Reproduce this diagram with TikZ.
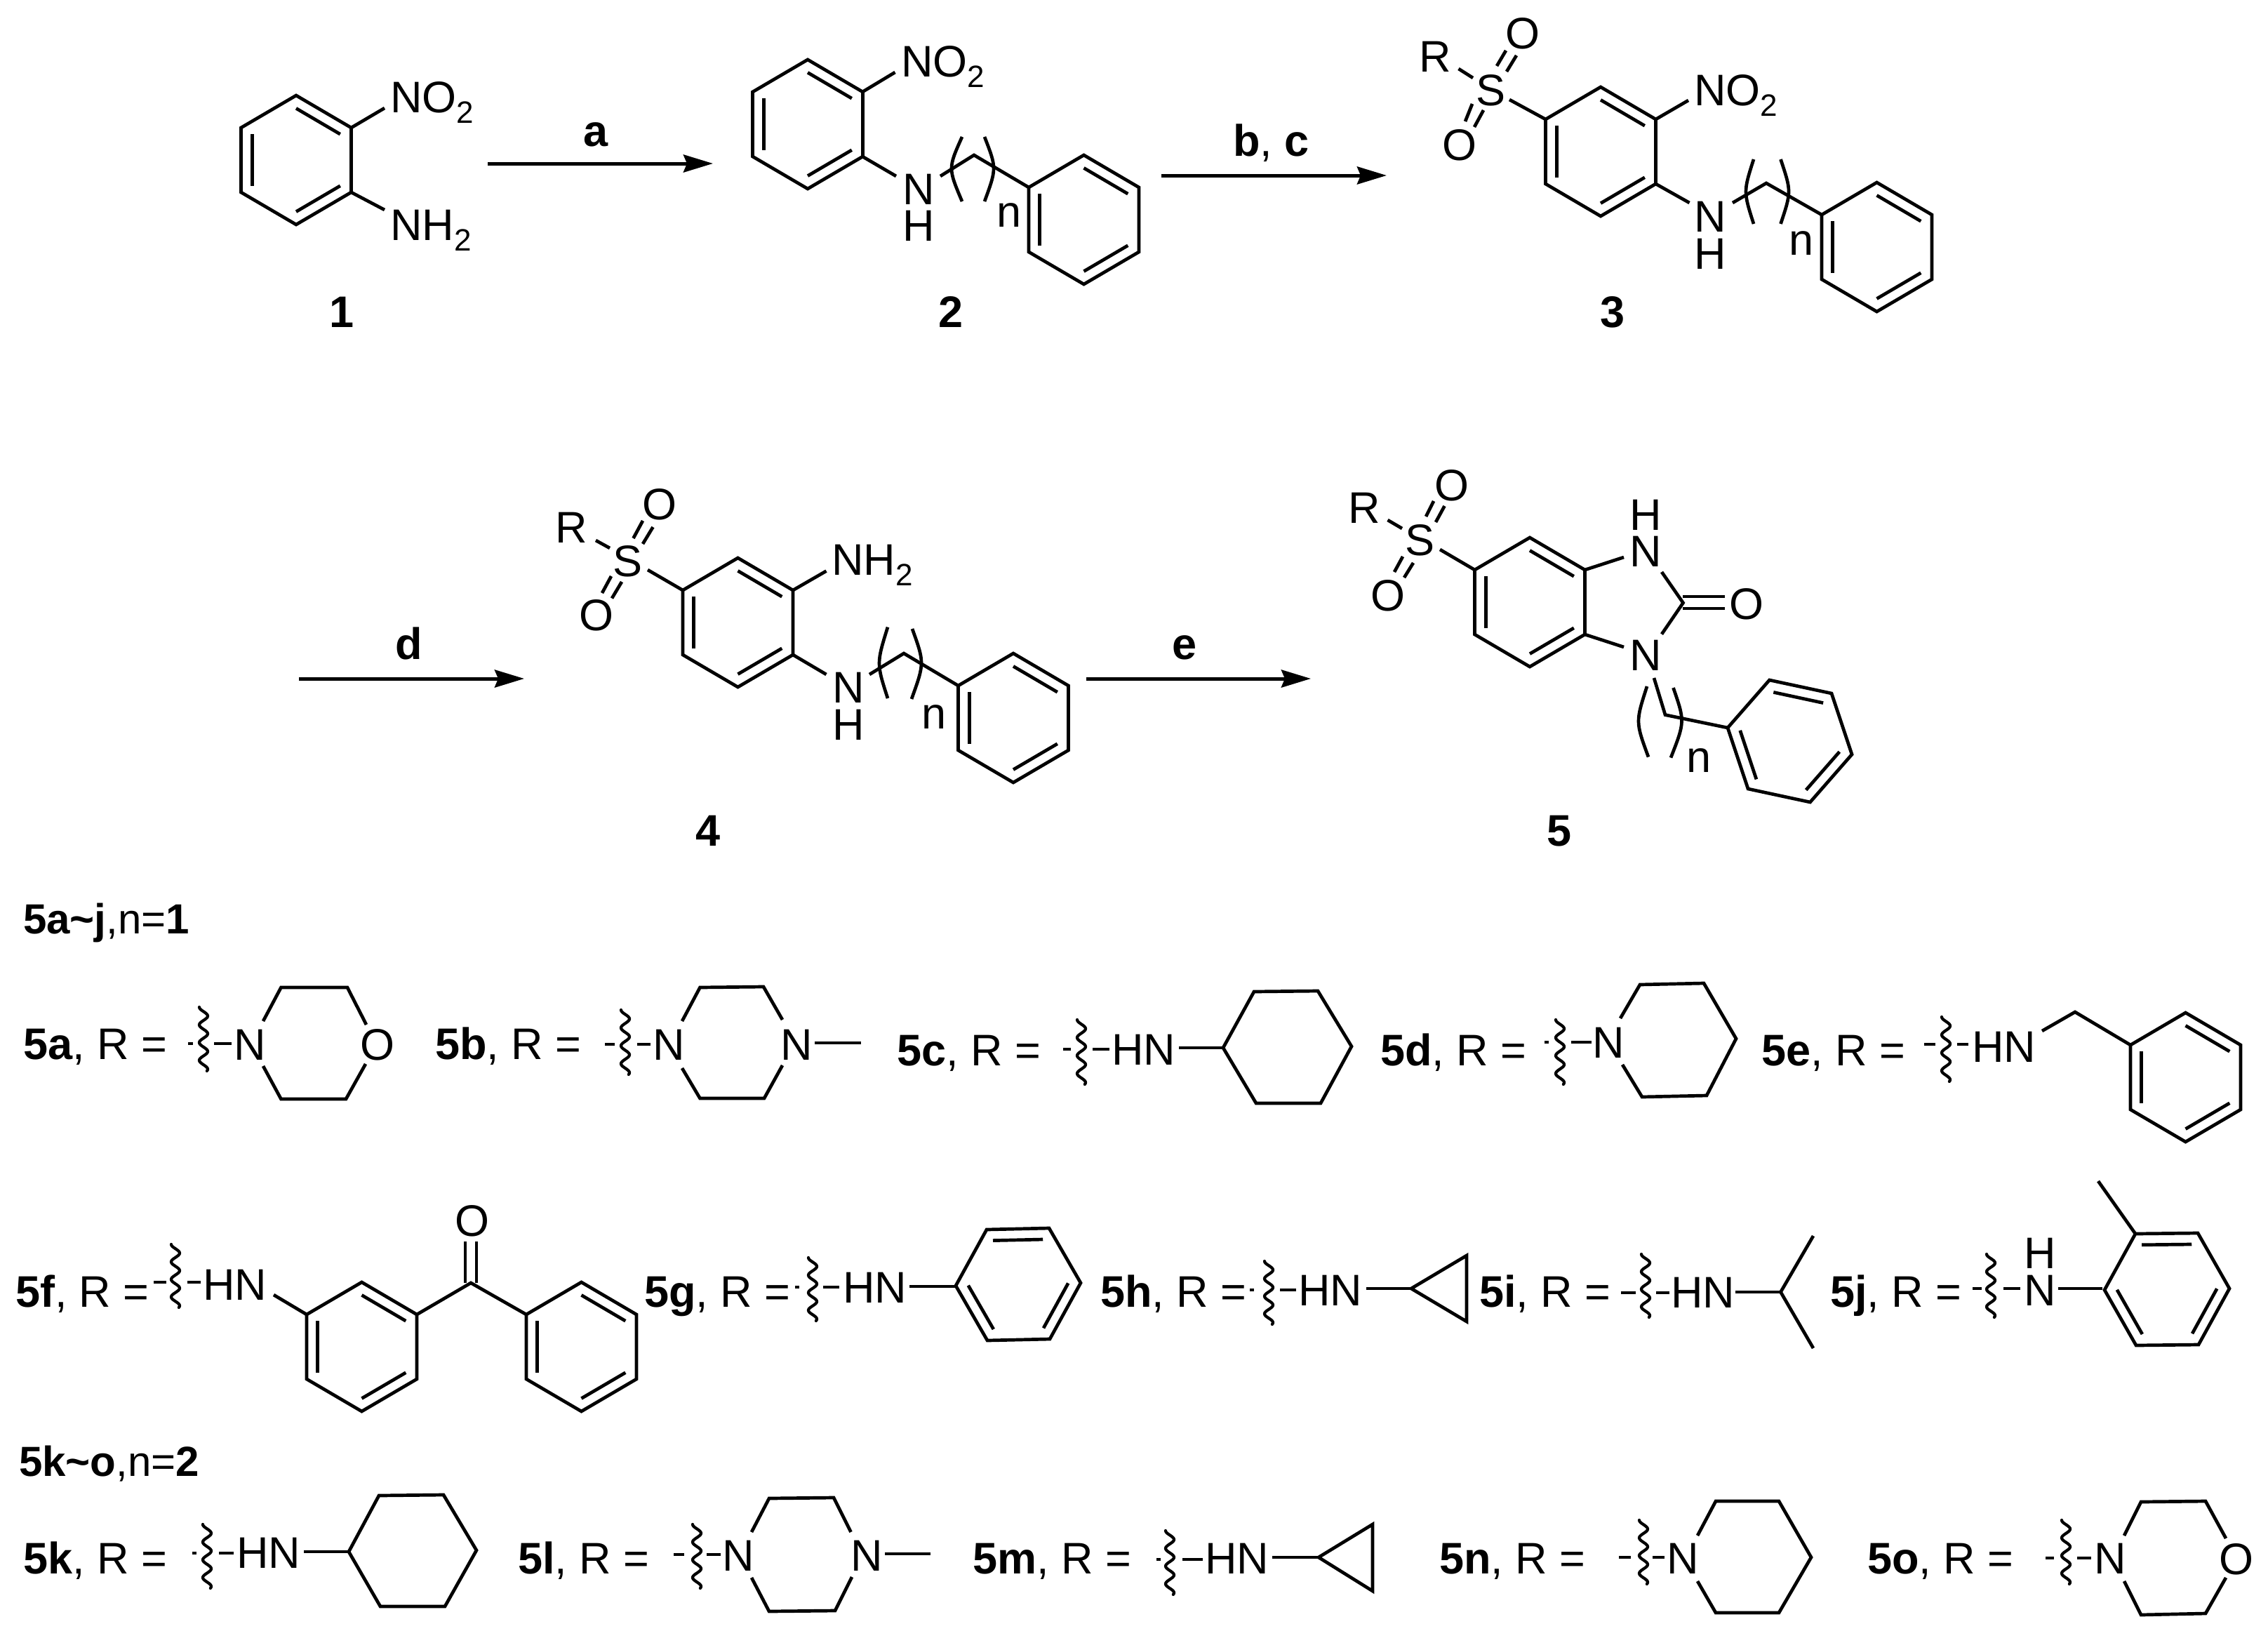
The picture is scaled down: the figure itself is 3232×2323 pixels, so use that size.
\documentclass[tikz,border=0pt]{standalone}
\usepackage{fontspec}
\setmainfont{Liberation Sans}
\usetikzlibrary{calc,arrows.meta}
\newcommand{\fs}{\fontsize{31.5}{36}\selectfont}
\newcommand{\subt}[1]{\raisebox{-7.5pt}{\fontsize{22}{24}\selectfont #1}}
\newcounter{lbl}
\newcommand{\lab}[3]{\stepcounter{lbl}\node[txt,anchor=base west] (t\arabic{lbl}) at (#1,#2) {#3};}
\newcommand{\atom}[3]{\stepcounter{lbl}\node[txt,anchor=base] (t\arabic{lbl}) at (#1,#2) {#3};}
% ring: centre, vertex-1 vector, vertex-2 vector, inner double bonds
\newcommand{\ring}[7]{%
  \coordinate (c) at (#1,#2);
  \coordinate (h1) at (#1+#3,#2+#4);
  \coordinate (h2) at (#1+#5,#2+#6);
  \coordinate (h3) at (#1+#5-#3,#2+#6-#4);
  \coordinate (h4) at (#1-#3,#2-#4);
  \coordinate (h5) at (#1-#5,#2-#6);
  \coordinate (h6) at (#1-#5+#3,#2-#6+#4);
  \draw[bond] (h1)--(h2)--(h3)--(h4)--(h5)--(h6)--cycle;
  \foreach \i/\j in {#7} \draw[bond] ($(c)!0.8!(h\i)$) -- ($(c)!0.8!(h\j)$);
}
\newcommand{\benz}[2]{\ring{#1}{#2}{0}{-92}{78.5}{-46}{1/2,3/4,5/6}}
\newcommand{\wide}[2]{\ring{#1}{#2}{-89}{1}{-45}{-79}{2/3,4/5,6/1}}
\newcommand{\paren}[6]{\draw[bond] (#1,#2) .. controls ({(4*#3-(#1+#5)/2)/3},{(4*#4-(#2+#6)/2)/3}) .. (#5,#6);}
% wavy attachment: x, top, bottom, left stub x1 x2, right stub x1 x2, stub y
\newcommand{\wavy}[8]{%
  \draw[wave] plot[domain=0:1,samples=73,smooth] ({#1+6*sin(360*3.6*\x-90)},{#2+(#3-#2)*\x});
  \draw[bond] (#4,#8) -- (#5,#8);
  \draw[bond] (#6,#8) -- (#7,#8);
}
\tikzset{
  bond/.style={line width=2.35pt,line join=miter,line cap=butt},
  wave/.style={line width=2.1pt,line cap=round},
  rarrow/.style={line width=2.5pt,-{Stealth[length=21pt,width=12.5pt,inset=2.5pt]}},
  txt/.style={inner sep=0pt,outer sep=0pt,font=\fs}
}
\begin{document}
\begin{tikzpicture}[x=0.5pt,y=-0.5pt]
\useasboundingbox (0,0) rectangle (3232,2323);
\fill[white] (0,0) rectangle (3232,2323);
% arrows
\coordinate (a1s) at (695,233); \coordinate (a1e) at (1016,233);
\coordinate (a2s) at (1655,250); \coordinate (a2e) at (1976,250);
\coordinate (a3s) at (426,967); \coordinate (a3e) at (747,967);
\coordinate (a4s) at (1548,967); \coordinate (a4e) at (1868,967);
\draw[rarrow] (a1s)--(a1e);
\draw[rarrow] (a2s)--(a2e);
\draw[rarrow] (a3s)--(a3e);
\draw[rarrow] (a4s)--(a4e);
\atom{849}{208}{\textbf{a}}
\lab{1757}{222}{\textbf{b}, \textbf{c}}
\atom{583}{939}{\textbf{d}}
\atom{1688}{939}{\textbf{e}}
% compound 1
\benz{422}{228}
\draw[bond] (500.5,182)--(548,154);
\draw[bond] (500.5,274)--(548,299);
\lab{556}{160}{NO\subt{2}}
\lab{556}{342}{NH\subt{2}}
\atom{487}{466}{\textbf{1}}
% compound 2
\benz{1151}{177}
\draw[bond] (1229,131)--(1275.5,103);
\draw[bond] (1229,223)--(1277,251);
\lab{1284}{110}{NO\subt{2}}
\atom{1309}{291}{N}\atom{1309}{343}{H}
\draw[bond] (1340,251)--(1388,221)--(1466,267);
\benz{1544.5}{313}
\paren{1371}{195}{1356}{240}{1371}{287}
\paren{1403}{195}{1416}{240}{1403}{287}
\atom{1438}{323}{n}
\atom{1355}{466}{\textbf{2}}
% compound 3
\benz{2281}{216}
\draw[bond] (2202.5,170)--(2151,142);
\draw[bond] (2078.5,98)--(2099,111);
\draw[bond] (2133,94)--(2146,72);
\draw[bond] (2147,102)--(2161,79);
\draw[bond] (2098,148)--(2088,173);
\draw[bond] (2114,157)--(2101,181);
\atom{2124.5}{150}{S}\atom{2045}{103}{R}
\atom{2170}{70}{O}\atom{2080}{228}{O}
\draw[bond] (2359.5,170)--(2406,143);
\draw[bond] (2359.5,262)--(2407.5,289);
\lab{2414}{150}{NO\subt{2}}
\atom{2437}{330}{N}\atom{2437}{383}{H}
\draw[bond] (2469,289)--(2517,261)--(2596,306);
\benz{2674.5}{352}
\paren{2499}{227}{2488}{273}{2499}{319}
\paren{2537.5}{227}{2549}{273}{2537.5}{319}
\atom{2567}{363}{n}
\atom{2298}{466}{\textbf{3}}
% compound 4
\benz{1051.5}{887}
\draw[bond] (973,841)--(923,812);
\draw[bond] (849,770)--(869,781);
\draw[bond] (902.5,767)--(916,742);
\draw[bond] (916,775)--(930.5,751);
\draw[bond] (871,821)--(858,845);
\draw[bond] (886,829)--(872,852.5);
\atom{894.5}{821}{S}\atom{814}{773}{R}
\atom{940}{740}{O}\atom{850}{898}{O}
\draw[bond] (1130,841)--(1177.5,813.6);
\draw[bond] (1130,933)--(1177.5,961);
\lab{1185}{819}{NH\subt{2}}
\atom{1209}{1001}{N}\atom{1209}{1054}{H}
\draw[bond] (1239,961)--(1288,931)--(1365.5,977);
\benz{1444}{1023}
\paren{1265}{893.6}{1253}{945}{1265}{995}
\paren{1300}{896}{1313}{945}{1299}{996}
\atom{1331}{1038.6}{n}
\atom{1009}{1205}{\textbf{4}}
% compound 5
\benz{2180}{858}
\draw[bond] (2101.5,812)--(2052,783);
\draw[bond] (1977.5,741)--(1998,753);
\draw[bond] (2032,736)--(2043,714);
\draw[bond] (2046,744)--(2058.5,721);
\draw[bond] (1987,815)--(1999,793);
\draw[bond] (2001,823)--(2014,802);
\atom{2023}{791}{S}\atom{1944}{745}{R}
\atom{2069}{713}{O}\atom{1978}{870}{O}
\atom{2345.5}{755}{H}\atom{2345.5}{807}{N}
\atom{2345.5}{955}{N}\atom{2488.5}{882}{O}
\draw[bond] (2258.5,812)--(2314,794);
\draw[bond] (2258.5,904)--(2314,922);
\draw[bond] (2368,815)--(2398.5,859)--(2368,903.6);
\draw[bond] (2398,850)--(2458,850);
\draw[bond] (2398,867)--(2458,867);
\draw[bond] (2357,966)--(2373,1018.6)--(2462,1037);
\ring{2550.5}{1056}{-88.5}{-19}{-29}{-87}{2/3,4/5,6/1}
\paren{2347}{978}{2335}{1028.6}{2349}{1078.6}
\paren{2384.5}{980}{2396.5}{1028.6}{2381}{1079.6}
\atom{2421}{1100}{n}
\atom{2221.5}{1205}{\textbf{5}}
% headings
\lab{33}{1330}{\fontsize{30}{36}\selectfont\textbf{5a\textasciitilde j},n=\textbf{1}}
\lab{27}{2103}{\fontsize{30}{36}\selectfont\textbf{5k\textasciitilde o},n=\textbf{2}}
% 5a
\lab{33}{1509}{\textbf{5a}, R =}
\wavy{290}{1435}{1526}{268}{275}{305}{330}{1487}
\atom{356.5}{1510}{N}\atom{538}{1510}{O}
\draw[bond] (375,1455)--(400.5,1407)--(495,1407)--(522,1460);
\draw[bond] (375,1519)--(400.5,1566)--(493,1566)--(521,1516);
% 5b
\lab{620}{1509}{\textbf{5b}, R =}
\wavy{891}{1439}{1531}{862}{876}{908}{927}{1488}
\atom{953.5}{1510}{N}\atom{1135}{1510}{N}
\draw[bond] (972,1455)--(997.5,1407)--(1088,1406)--(1115,1453);
\draw[bond] (972,1522)--(997.5,1565)--(1089,1565)--(1115,1518);
\draw[bond] (1161,1486)--(1227,1486);
% 5c
\lab{1278}{1518}{\textbf{5c}, R =}
\wavy{1541}{1453}{1545}{1515}{1526}{1557}{1581}{1495}
\lab{1584}{1517}{HN}
\draw[bond] (1680,1493)--(1743,1493);
\draw[bond] (1743,1493)--(1787,1413)--(1878,1412)--(1926,1491)--(1882,1572)--(1790,1572)--cycle;
% 5d
\lab{1967}{1518}{\textbf{5d}, R =}
\wavy{2223}{1453}{1545}{2201}{2207}{2239}{2268}{1485}
\atom{2292.5}{1507}{N}
\draw[bond] (2309,1451)--(2337,1403)--(2428,1401)--(2474,1480)--(2432,1561)--(2340,1563)--(2312,1517);
% 5e
\lab{2510}{1518}{\textbf{5e}, R =}
\wavy{2773}{1449}{1541}{2742}{2758}{2789}{2805}{1488}
\lab{2810}{1513}{HN}
\draw[bond] (2910,1469)--(2957,1442)--(3036,1489);
\benz{3114.5}{1535}
% 5f
\lab{22}{1862}{\textbf{5f}, R =}
\wavy{250}{1773}{1863}{219}{237}{267}{286}{1827}
\lab{289}{1852}{HN}
\draw[bond] (390,1845)--(437,1873);
\benz{515.5}{1919}
\draw[bond] (594,1873)--(671,1828)--(750,1873);
\draw[bond] (663,1769)--(663,1828);
\draw[bond] (679,1769)--(679,1828);
\atom{672.5}{1761}{O}
\benz{828.5}{1919}
% 5g
\lab{918}{1862}{\textbf{5g}, R =}
\wavy{1158}{1792}{1882}{1133}{1139}{1173}{1196}{1834}
\lab{1201}{1856}{HN}
\draw[bond] (1296,1833)--(1362,1833);
\ring{1451}{1830}{-89}{2}{-45}{-78}{2/3,4/5,6/1}
% 5h
\lab{1568}{1862}{\textbf{5h}, R =}
\wavy{1808}{1797}{1887}{1781}{1787}{1824}{1847}{1838}
\lab{1850}{1860}{HN}
\draw[bond] (1947,1836)--(2011,1836);
\draw[bond] (2011,1836)--(2090,1789)--(2090,1883)--cycle;
% 5i
\lab{2108}{1862}{\textbf{5i}, R =}
\wavy{2345}{1787}{1877}{2310}{2331}{2360}{2379}{1842}
\lab{2381}{1863}{HN}
\draw[bond] (2473,1841)--(2537.5,1841);
\draw[bond] (2584,1761)--(2537.5,1841)--(2584,1921);
% 5j
\lab{2608}{1862}{\textbf{5j}, R =}
\wavy{2837}{1787}{1877}{2811}{2824}{2855}{2879}{1836}
\atom{2907.5}{1860}{N}\atom{2907.5}{1807}{H}
\draw[bond] (2933,1836)--(2996,1836);
\wide{3088}{1837}
\draw[bond] (3043,1758)--(2990,1683);
% 5k
\lab{33}{2242}{\textbf{5k}, R =}
\wavy{295}{2172}{2263}{274}{280}{312}{333}{2213}
\lab{337}{2234}{HN}
\draw[bond] (433,2211)--(497,2211);
\draw[bond] (497,2211)--(540,2131)--(632,2130)--(679,2209)--(634,2289)--(542,2289)--cycle;
% 5l
\lab{738}{2242}{\textbf{5l}, R =}
\wavy{993}{2172}{2263}{960}{975}{1007}{1027}{2215}
\atom{1052}{2238}{N}\atom{1235}{2238}{N}
\draw[bond] (1071,2183)--(1096,2135)--(1188,2134)--(1212.5,2183);
\draw[bond] (1071,2248)--(1096,2296)--(1190,2295)--(1214,2247);
\draw[bond] (1261,2214)--(1326,2214);
% 5m
\lab{1386}{2242}{\textbf{5m}, R =}
\wavy{1667}{2181}{2272}{1648}{1654}{1685}{1714}{2222}
\lab{1717}{2242}{HN}
\draw[bond] (1813,2219)--(1879,2219);
\draw[bond] (1879,2219)--(1956,2172)--(1956,2267)--cycle;
% 5n
\lab{2051}{2242}{\textbf{5n}, R =}
\wavy{2342}{2166}{2257}{2307}{2324}{2355}{2372}{2219}
\atom{2398.5}{2242}{N}
\draw[bond] (2419,2188)--(2445,2139)--(2535,2139)--(2581,2219)--(2535,2298)--(2445,2298)--(2419,2253);
% 5o
\lab{2661}{2242}{\textbf{5o}, R =}
\wavy{2944}{2166}{2257}{2915}{2927}{2960}{2980}{2220}
\atom{3007}{2242}{N}\atom{3187}{2243}{O}
\draw[bond] (3027,2188)--(3051,2140)--(3143,2139)--(3172,2192);
\draw[bond] (3027,2253)--(3051,2301)--(3143,2299)--(3172,2248);
\end{tikzpicture}
\end{document}
